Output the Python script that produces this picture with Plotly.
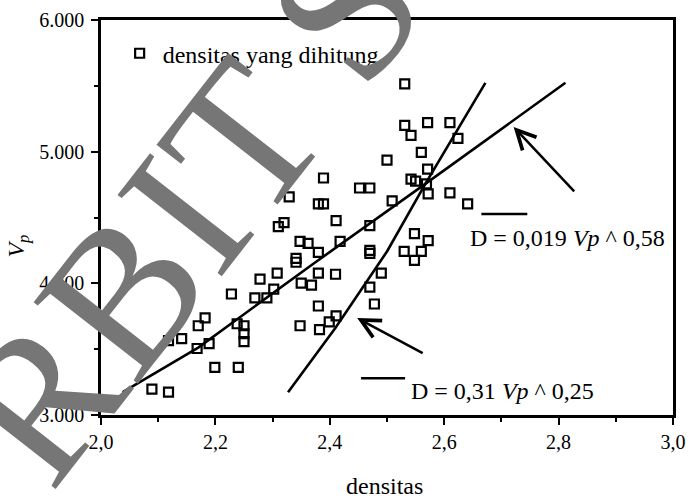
import plotly.graph_objects as go

# ---- data ----
density = [2.089, 2.118, 2.118, 2.141, 2.170, 2.182, 2.168, 2.189, 2.199, 2.240,
           2.228, 2.238, 2.250, 2.250, 2.250, 2.269, 2.290, 2.278, 2.302, 2.308,
           2.310, 2.320, 2.329, 2.341, 2.341, 2.348, 2.362, 2.350, 2.368, 2.348,
           2.380, 2.380, 2.380, 2.382, 2.380, 2.389, 2.389, 2.399, 2.411, 2.411,
           2.410, 2.418, 2.452, 2.470, 2.470, 2.470, 2.470, 2.470, 2.478, 2.490,
           2.500, 2.509, 2.531, 2.531, 2.542, 2.571, 2.610, 2.624, 2.560, 2.571,
           2.542, 2.550, 2.569, 2.572, 2.610, 2.641, 2.548, 2.572, 2.530, 2.560,
           2.548]
vp = [3196, 3173, 3565, 3580, 3678, 3738, 3505, 3542, 3361, 3361,
      3919, 3693, 3678, 3617, 3557, 3889, 3889, 4032, 3956, 4077,
      4431, 4461, 4657, 4190, 4160, 4318, 4303, 4002, 3986, 3678,
      4235, 4077, 3828, 3648, 4604, 4604, 4800, 3708, 3753, 4476,
      4069, 4318, 4724, 4724, 4438, 4250, 4227, 3971, 3843, 4077,
      4935, 4627, 5515, 5199, 5123, 5221, 5221, 5101, 4995, 4867,
      4792, 4777, 4755, 4679, 4687, 4604, 4378, 4325, 4242, 4242,
      4175]

fit1_d = [2.038, 2.170, 2.370, 2.567, 2.812]
fit1_vp = [3173, 3512, 4145, 4755, 5523]
fit2_d = [2.327, 2.410, 2.500, 2.567, 2.672]
fit2_vp = [3173, 3663, 4242, 4755, 5523]

x_tickvals = [2.0, 2.2, 2.4, 2.6, 2.8, 3.0]
x_ticktext = ["2,0", "2,2", "2,4", "2,6", "2,8", "3,0"]
y_tickvals = [3000, 4000, 5000, 6000]
y_ticktext = ["3.000", "4.000", "5.000", "6.000"]

legend_label = "densitas yang dihitung"
eq1 = "D = 0,019 <i>Vp</i> ^ 0,58"
eq2 = "D = 0,31 <i>Vp</i> ^ 0,25"

FONT = "Liberation Serif"
TXT = 24

fig = go.Figure()
fig.add_trace(go.Scatter(
    x=density, y=vp, mode="markers", name=legend_label,
    marker=dict(symbol="square-open", size=9, color="black",
                line=dict(width=2.2, color="black")),
))
fig.add_trace(go.Scatter(x=fit1_d, y=fit1_vp, mode="lines", showlegend=False,
                         line=dict(color="black", width=2.6)))
fig.add_trace(go.Scatter(x=fit2_d, y=fit2_vp, mode="lines", showlegend=False,
                         line=dict(color="black", width=2.6)))

axis_common = dict(
    showgrid=False, zeroline=False, showline=True, linecolor="black",
    linewidth=2.5, mirror=True, ticks="outside", ticklen=7, tickwidth=2,
    tickcolor="black", tickfont=dict(family=FONT, size=20, color="black"),
    ticklabeloverflow="allow",
)

fig.update_xaxes(range=[2.0, 3.0], tickmode="array", tickvals=x_tickvals,
                 ticktext=x_ticktext,
                 minor=dict(tickmode="linear", tick0=2.0, dtick=0.1,
                            ticks="outside", ticklen=4, tickwidth=2,
                            tickcolor="black"),
                 **axis_common)
fig.update_yaxes(range=[3000, 6000], tickmode="array", tickvals=y_tickvals,
                 ticktext=y_ticktext, ticklabelstandoff=3,
                 minor=dict(tickmode="linear", tick0=3000, dtick=500,
                            ticks="outside", ticklen=4, tickwidth=2,
                            tickcolor="black"),
                 **axis_common)

L, R, T, B = 101, 9, 16, 86
W, H = 695, 501
pw, ph = W - L - R, H - T - B


def px2paper(px, py):
    return (px - L) / pw, (H - B - py) / ph


annotations = []
# watermark (drawn first, beneath the other annotations)
ax_, ay_ = px2paper(190, 207)
annotations.append(dict(text="RBIT S", x=ax_, y=ay_, xref="paper", yref="paper",
                        xanchor="center", yanchor="middle",
                        showarrow=False, textangle=-52,
                        font=dict(family=FONT, size=202, color="rgb(118,118,118)")))
# axis titles
ax_, ay_ = px2paper(391, 487)
annotations.append(dict(text="densitas", x=ax_, y=ay_, xref="paper", yref="paper",
                        xanchor="center", yanchor="middle", showarrow=False,
                        font=dict(family=FONT, size=TXT, color="black")))
ax_, ay_ = px2paper(16, 244)
annotations.append(dict(text="<i>V<sub>p</sub></i>", x=ax_, y=ay_, xref="paper",
                        yref="paper", xanchor="center", yanchor="middle",
                        textangle=-90, showarrow=False,
                        font=dict(family=FONT, size=TXT, color="black")))
# equations
ax_, ay_ = px2paper(476, 236)
annotations.append(dict(text=eq1, x=ax_, y=ay_, xref="paper", yref="paper",
                        xanchor="left", yanchor="middle", showarrow=False,
                        font=dict(family=FONT, size=TXT, color="black")))
ax_, ay_ = px2paper(416, 391)
annotations.append(dict(text=eq2, x=ax_, y=ay_, xref="paper", yref="paper",
                        xanchor="left", yanchor="middle", showarrow=False,
                        font=dict(family=FONT, size=TXT, color="black")))
# arrows
for (hx, hy, dx, dy) in [(523, 124, 62, 66), (363, 317, 67, 36)]:
    ax_, ay_ = px2paper(hx, hy)
    annotations.append(dict(text="", x=ax_, y=ay_, xref="paper", yref="paper",
                            showarrow=True, ax=dx, ay=dy, arrowhead=5,
                            arrowsize=1.5, arrowwidth=2.5, arrowcolor="black"))

shapes = []
for (x0, x1, y) in [(490, 537, 212), (367, 412, 378)]:
    a0, b0 = px2paper(x0, y)
    a1, b1 = px2paper(x1, y)
    shapes.append(dict(type="line", xref="paper", yref="paper", x0=a0, x1=a1,
                       y0=b0, y1=b1, line=dict(color="black", width=2.5)))

lx, ly = px2paper(117, 50)
fig.update_layout(
    width=W, height=H, margin=dict(l=L, r=R, t=T, b=B),
    paper_bgcolor="white", plot_bgcolor="white",
    font=dict(family=FONT, color="black"),
    showlegend=True,
    legend=dict(x=lx, y=ly, xanchor="left", yanchor="middle",
                bgcolor="rgba(0,0,0,0)", borderwidth=0,
                font=dict(family=FONT, size=TXT, color="black"),
                itemwidth=36),
    annotations=annotations, shapes=shapes,
)

fig.write_html("out.html")
